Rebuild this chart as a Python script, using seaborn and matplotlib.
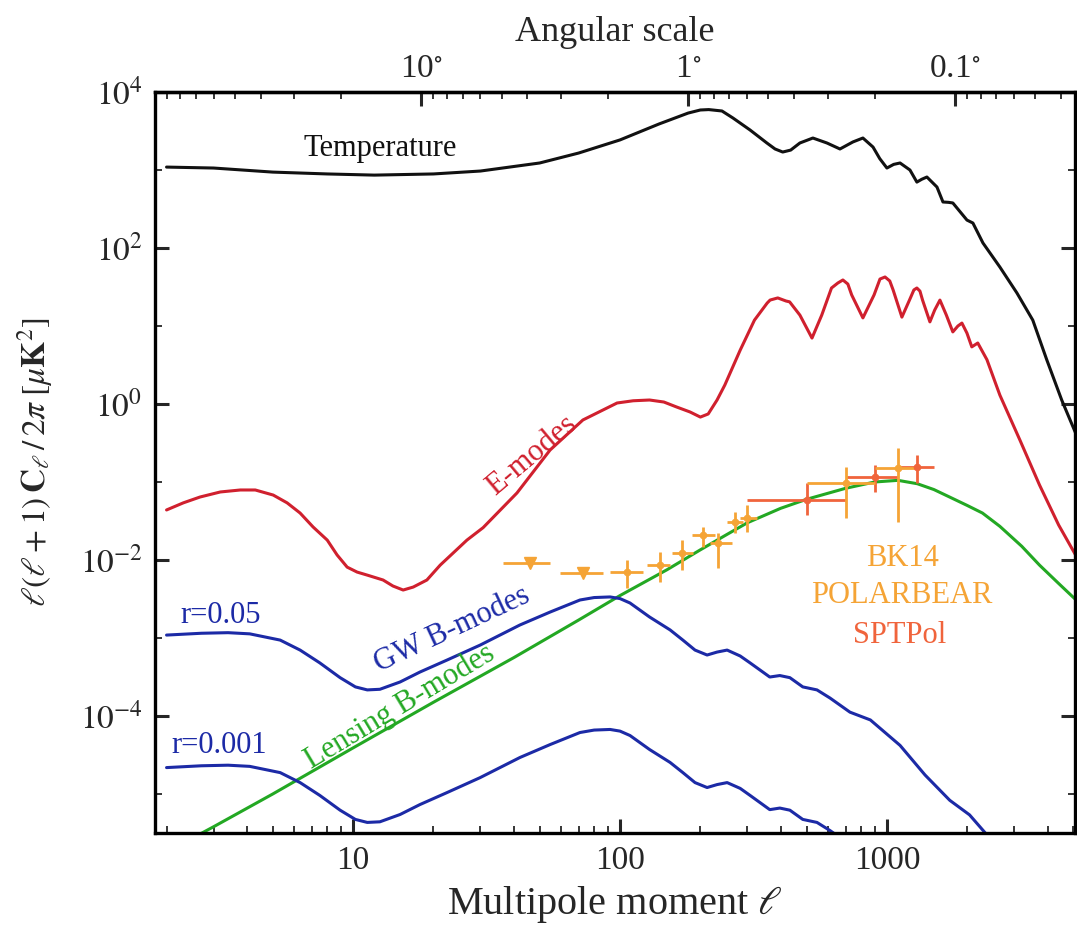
import numpy as np
import pandas as pd
import matplotlib
matplotlib.use("Agg")
import matplotlib.pyplot as plt
import seaborn as sns
from matplotlib.ticker import NullFormatter, FixedLocator

# Temperature spectrum
ell_tt = [2, 3, 5, 8, 12, 20, 30, 50, 70, 100, 140, 180, 200, 215, 241, 265, 307,
          355, 381, 407, 436, 472, 528, 596, 667, 746, 813, 887, 940, 1000, 1060,
          1120, 1220, 1295, 1350, 1412, 1540, 1622, 1700, 1766, 1995, 2100, 2290,
          2650, 3070, 3520, 3970, 4520, 5100]
tt = [1090, 1060, 940, 890, 860, 890, 970, 1230, 1650, 2430, 3890, 5370, 5880,
      5950, 5710, 4640, 3260, 2220, 1860, 1700, 1800, 2220, 2570, 2220, 1860,
      2290, 2570, 1970, 1400, 1060, 1180, 1230, 1000, 700, 760, 813, 605, 389,
      385, 378, 228, 209, 116, 57, 26.5, 11.9, 3.7, 1.12, 0.42]

# E-mode polarisation
ell_ee = [2, 2.31, 2.67, 3.18, 3.78, 4.3, 5.02, 5.66, 6.33, 7.08, 8.0, 8.71, 9.5,
          10.35, 11.3, 12.95, 14.1, 15.4, 16.8, 18.9, 21.2, 26.7, 30.7, 41.1, 54.7,
          72.6, 97.5, 112, 129, 146, 163, 183, 200, 214, 231, 247, 282, 319, 356,
          365, 390, 419, 432, 472, 524, 570, 620, 655, 684, 714, 738, 813, 895, 942,
          984, 1025, 1055, 1138, 1215, 1262, 1295, 1330, 1360, 1449, 1510, 1580,
          1670, 1766, 1845, 1910, 1995, 2080, 2190, 2370, 2650, 3150, 3730, 4400,
          5100]
ee = [0.0438, 0.054, 0.0642, 0.0745, 0.079, 0.079, 0.068, 0.054, 0.040, 0.0265,
      0.018, 0.0116, 0.0081, 0.0070, 0.0064, 0.00554, 0.00464, 0.00412, 0.0045,
      0.00554, 0.0086, 0.018, 0.026, 0.0723, 0.257, 0.624, 1.03, 1.10, 1.125, 1.06,
      0.915, 0.79, 0.68, 0.745, 1.125, 1.75, 4.9, 11.9, 19.7, 21.5, 22.9, 20.9,
      20.4, 13.8, 7.0, 13.8, 30.7, 35.6, 38.9, 34.5, 25.0, 12.7, 25.0, 40.0, 42.5,
      37.8, 29.0, 13.0, 21.5, 29.0, 30.7, 28.0, 21.5, 11.3, 16.0, 21.5, 13.8, 8.4,
      10.0, 10.9, 8.1, 5.4, 6.05, 3.7, 1.3, 0.345, 0.0916, 0.0281, 0.0115]

# Primordial (GW) B-modes
ell_gw = [2, 2.7, 3.4, 4.1, 5.33, 6.33, 7.5, 8.94, 10.2, 11.3, 12.6, 15, 17.8, 22.5,
          29.9, 42.2, 54.7, 70.8, 80, 91.8, 100, 109, 129, 154, 172, 191, 212, 231,
          252, 282, 307, 364, 397, 433, 484, 547, 612, 727, 867, 1120, 1390, 1720,
          2040, 2330, 2700]
gw_r005 = [0.00109, 0.00115, 0.00117, 0.00113, 0.00094, 0.0007, 0.00048, 0.00031,
           0.000236, 0.000216, 0.00022, 0.000273, 0.000366, 0.000522, 0.00081,
           0.00147, 0.00215, 0.00307, 0.00330, 0.00336, 0.00320, 0.00281, 0.00186,
           0.00127, 0.00094, 0.0007, 0.000605, 0.00066, 0.0007, 0.000588, 0.00048,
           0.000316, 0.00033, 0.00031, 0.000236, 0.000216, 0.00017, 0.000112,
           8.9e-5, 4.2e-5, 1.75e-5, 8.3e-6, 5.4e-6, 3.2e-6, 1.5e-6]
gw_r0001 = [2.18e-5, 2.3e-5, 2.34e-5, 2.26e-5, 1.88e-5, 1.4e-5, 9.6e-6, 6.2e-6,
            4.72e-6, 4.32e-6, 4.4e-6, 5.46e-6, 7.32e-6, 1.044e-5, 1.62e-5, 2.94e-5,
            4.3e-5, 6.14e-5, 6.6e-5, 6.72e-5, 6.4e-5, 5.62e-5, 3.72e-5, 2.54e-5,
            1.88e-5, 1.4e-5, 1.21e-5, 1.32e-5, 1.4e-5, 1.18e-5, 9.6e-6, 6.3e-6,
            6.6e-6, 6.2e-6, 4.72e-6, 4.32e-6, 3.4e-6, 2.24e-6, 1.78e-6, 8.4e-7,
            3.5e-7, 1.7e-7, 1.1e-7, 6.4e-8, 3e-8]

# Lensing B-modes
ell_lens = [2, 3, 5, 10, 20, 40, 70, 100, 150, 200, 250, 300, 400, 500, 700, 900,
            1100, 1300, 1500, 1720, 2000, 2280, 2650, 3200, 3730, 4400, 5100]
lens = [1.8e-6, 3.8e-6, 1.0e-5, 3.9e-5, 1.5e-4, 5.6e-4, 1.7e-3, 3.5e-3, 7.5e-3,
        0.0135, 0.021, 0.030, 0.046, 0.060, 0.083, 0.100, 0.105, 0.095, 0.080,
        0.064, 0.050, 0.040, 0.027, 0.015, 0.0086, 0.0050, 0.0031]

# BK14 upper limits
bk_lim_ell = [46, 72.6]
bk_lim_lo = [36.5, 59.6]
bk_lim_hi = [54.7, 86.3]
bk_lim_val = [0.0092, 0.0068]

# BK14 band powers
bk_ell = [106, 141, 171, 205, 233, 270, 299]
bk_ell_lo = [91.8, 126, 156, 186, 217, 252, 282]
bk_ell_hi = [122, 154, 188, 227, 262, 289, 326]
bk_val = [0.0070, 0.0086, 0.0123, 0.0209, 0.0165, 0.0307, 0.0345]
bk_lo = [0.00438, 0.00522, 0.00745, 0.0147, 0.0079, 0.0222, 0.0229]
bk_hi = [0.0100, 0.0127, 0.0180, 0.0265, 0.0222, 0.0412, 0.0507]

# POLARBEAR
pb_ell = [700, 1100]
pb_ell_lo = [500, 900]
pb_ell_hi = [900, 1300]
pb_val = [0.097, 0.151]
pb_lo = [0.0345, 0.0307]
pb_hi = [0.156, 0.273]

# SPTPol
sp_ell = [500, 900, 1300]
sp_ell_lo = [300, 700, 1100]
sp_ell_hi = [700, 1100, 1500]
sp_val = [0.0588, 0.116, 0.156]
sp_lo = [0.0377, 0.0745, 0.097]
sp_hi = [0.097, 0.165, 0.222]

BLACK = "#111111"
RED = "#d0202e"
BLUE = "#1c2aa6"
GREEN = "#23a823"
ORANGE = "#f5a436"
SPT = "#f0643c"

sns.set_style("ticks")
plt.rcParams["font.family"] = ["Liberation Serif", "DejaVu Serif"]
plt.rcParams["mathtext.fontset"] = "stix"

fig = plt.figure(figsize=(10.77, 9.35), dpi=100)
ax = fig.add_axes([0.1439, 0.1091, 0.8541, 0.7925])

curves = [
    (ell_tt, tt, BLACK),
    (ell_ee, ee, RED),
    (ell_lens, lens, GREEN),
    (ell_gw, gw_r005, BLUE),
    (ell_gw, gw_r0001, BLUE),
]
for xs, ys, col in curves:
    df = pd.DataFrame({"ell": xs, "dl": ys})
    line_ax = sns.lineplot(data=df, x="ell", y="dl", color=col, lw=2.2, sort=False,
                           estimator=None, ax=ax)
for ln in ax.get_lines():
    ln.set_solid_joinstyle("round")


def errs(c, lo, hi):
    c = np.array(c)
    return [c - np.array(lo), np.array(hi) - c]


ax.errorbar(bk_lim_ell, bk_lim_val, xerr=errs(bk_lim_ell, bk_lim_lo, bk_lim_hi),
            fmt="v", ms=9, color=ORANGE, elinewidth=2, capsize=0)
ax.errorbar(sp_ell, sp_val, xerr=errs(sp_ell, sp_ell_lo, sp_ell_hi),
            yerr=errs(sp_val, sp_lo, sp_hi), fmt="o", ms=4.5, color=SPT,
            elinewidth=2, capsize=0)
ax.errorbar(bk_ell, bk_val, xerr=errs(bk_ell, bk_ell_lo, bk_ell_hi),
            yerr=errs(bk_val, bk_lo, bk_hi), fmt="o", ms=4.5, color=ORANGE,
            elinewidth=2, capsize=0)
ax.errorbar(pb_ell, pb_val, xerr=errs(pb_ell, pb_ell_lo, pb_ell_hi),
            yerr=errs(pb_val, pb_lo, pb_hi), fmt="o", ms=4.5, color=ORANGE,
            elinewidth=2, capsize=0)

ax.set_xscale("log")
ax.set_yscale("log")
ax.set_xlim(1.81, 5060)
ax.set_ylim(10 ** -5.5, 1e4)

ax.set_xticks([10, 100, 1000])
ax.set_xticklabels(["10", "100", "1000"])
ax.xaxis.set_minor_formatter(NullFormatter())
ax.yaxis.set_major_locator(FixedLocator([1e-4, 1e-2, 1, 1e2, 1e4]))
ax.set_yticklabels([r"$10^{-4}$", r"$10^{-2}$", r"$10^{0}$", r"$10^{2}$", r"$10^{4}$"])
ax.yaxis.set_minor_locator(FixedLocator([1e-5, 1e-3, 1e-1, 1e1, 1e3]))
ax.yaxis.set_minor_formatter(NullFormatter())

ax.tick_params(which="both", direction="in", top=False, right=True,
               labelsize=24, pad=9)
ax.tick_params(which="major", length=10, width=2.2)
ax.tick_params(which="minor", length=5, width=1.3)
for sp in ax.spines.values():
    sp.set_linewidth(2.4)
    sp.set_color("black")

ax.set_xlabel(r"Multipole moment $\ell$", fontsize=29, labelpad=6)
ax.set_ylabel(r"$\ell(\ell+1)\,\mathbf{C}_{\ell}\,/\,2\pi\;[\mu\mathbf{K}^{2}]$",
              fontsize=24, labelpad=18)


def to_angle(x):
    x = np.asarray(x, dtype=float)
    return np.divide(180.0, x, out=np.full_like(x, np.inf), where=x != 0)


secax = ax.secondary_xaxis("top", functions=(to_angle, to_angle))
secax.set_xticks([10, 1, 0.1])
secax.set_xticklabels([r"10$^{\circ}$", r"1$^{\circ}$", r"0.1$^{\circ}$"])
secax.xaxis.set_minor_formatter(NullFormatter())
secax.tick_params(which="both", direction="in", labelsize=24, pad=6)
secax.tick_params(which="major", length=10, width=2.2)
secax.tick_params(which="minor", length=5, width=1.3)
secax.spines["top"].set_linewidth(2.4)
secax.set_xlabel("Angular scale", fontsize=26, labelpad=9)

fs = 22
ax.text(0.2446, 0.9244, "Temperature", color=BLACK, fontsize=fs,
        ha="center", va="center", transform=ax.transAxes)
ax.text(0.4098, 0.510, "E-modes", color=RED, fontsize=fs, rotation=40,
        ha="center", va="center", transform=ax.transAxes)
ax.text(0.3228, 0.274, "GW B-modes", color=BLUE, fontsize=fs, rotation=25,
        ha="center", va="center", transform=ax.transAxes)
ax.text(0.2663, 0.170, "Lensing B-modes", color=GREEN, fontsize=fs, rotation=31,
        ha="center", va="center", transform=ax.transAxes)
ax.text(0.0717, 0.294, "r=0.05", color=BLUE, fontsize=fs,
        ha="center", va="center", transform=ax.transAxes)
ax.text(0.0696, 0.1174, "r=0.001", color=BLUE, fontsize=fs,
        ha="center", va="center", transform=ax.transAxes)
ax.text(0.813, 0.371, "BK14", color=ORANGE, fontsize=fs,
        ha="center", va="center", transform=ax.transAxes)
ax.text(0.812, 0.320, "POLARBEAR", color=ORANGE, fontsize=fs,
        ha="center", va="center", transform=ax.transAxes)
ax.text(0.810, 0.267, "SPTPol", color=SPT, fontsize=fs,
        ha="center", va="center", transform=ax.transAxes)

fig.savefig("out.png", dpi=100)
